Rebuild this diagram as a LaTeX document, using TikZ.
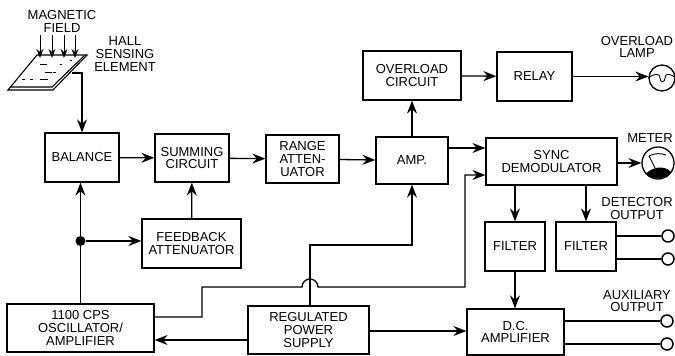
\documentclass[tikz,border=0pt]{standalone}
\usepackage{fontspec}
\setmainfont{Liberation Sans}
\usetikzlibrary{arrows.meta}
\tikzset{
	block/.style={draw, line width=1.3pt, align=center, inner sep=0pt, font=\fontsize{13}{12.8}\selectfont},
	label/.style={align=center, inner sep=0pt, font=\fontsize{13}{12.6}\selectfont},
	wire/.style={line width=1.3pt},
	arr/.style={line width=1.3pt, -{Stealth[length=13pt,width=10pt,inset=4.5pt]}},
	terminal/.style={circle, draw, line width=1.5pt, fill=white, minimum size=12pt, inner sep=0pt},
	dial/.style={circle, draw, line width=1.3pt, fill=white, inner sep=0pt}
}
\begin{document}
\begin{tikzpicture}[x=1pt,y=-1pt]
			\useasboundingbox (0,0) rectangle (675,356);
			\node[block, minimum width=74pt, minimum height=49pt] (balance) at (82,157.5) {BALANCE};
			\node[block, minimum width=74pt, minimum height=48pt] (summing) at (192,158) {SUMMING\\CIRCUIT};
			\node[block, minimum width=73pt, minimum height=48pt] (range) at (302.5,159) {RANGE\\ATTEN-\\UATOR};
			\node[block, minimum width=72pt, minimum height=47pt] (amp) at (412,160.5) {AMP.};
			\node[block, minimum width=98pt, minimum height=49pt] (overload) at (412,75.5) {OVERLOAD\\CIRCUIT};
			\node[block, minimum width=75pt, minimum height=49pt] (relay) at (534.5,76.5) {RELAY};
			\node[block, minimum width=131pt, minimum height=47pt] (sync) at (551.5,161.5) {SYNC\\DEMODULATOR};
			\node[block, minimum width=99pt, minimum height=49pt] (feedback) at (191.5,243.5) {FEEDBACK\\ATTENUATOR};
			\node[block, minimum width=60pt, minimum height=49pt] (filterA) at (515,246.5) {FILTER};
			\node[block, minimum width=60pt, minimum height=49pt] (filterB) at (586,246.5) {FILTER};
			\node[block, minimum width=147pt, minimum height=48pt] (osc) at (80.5,328) {1100 CPS\\OSCILLATOR/\\AMPLIFIER};
			\node[block, minimum width=121pt, minimum height=48pt] (supply) at (308.5,330) {REGULATED\\POWER\\SUPPLY};
			\node[block, minimum width=97pt, minimum height=46pt] (dcamp) at (515.5,332) {D.C.\\AMPLIFIER};
			% labels
			\node[label] (fieldlabel) at (62,21.5) {MAGNETIC\\FIELD};
			\node[label] (halllabel) at (125,54) {HALL\\SENSING\\ELEMENT};
			\node[label] (lamplabel) at (637,47) {OVERLOAD\\LAMP};
			\node[label] (meterlabel) at (650,138) {METER};
			\node[label] (detlabel) at (637,208.5) {DETECTOR\\OUTPUT};
			\node[label] (auxlabel) at (637,301) {AUXILIARY\\OUTPUT};
			% sensing element
			\draw[line width=1.1pt, fill=white] (37,55) -- (87,55) -- (53,90) -- (8,90) -- cycle;
			\draw[line width=1.1pt] (10,87) -- (52,87) -- (84,56);
			\foreach \x/\y/\w in {40/64/7,45/72/7,53/72/3,22/79/3,30/79/3,40/79/8,60/64/2,70/60/2}
				\draw[line width=0.8pt] (\x,\y) -- ++(\w,0);
			\foreach \x [count=\i] in {40,52,64,75} {
				\coordinate (fieldtop\i) at (\x,35);
				\coordinate (fieldend\i) at (\x,58);
				\draw[line width=1pt, -{Stealth[length=9pt,width=7pt,inset=3pt]}] (fieldtop\i) -- (fieldend\i);
			}
			\coordinate (hallout) at (72,73);
			\draw[arr] (hallout) -| (balance.north);
			% signal path
			\draw[arr] (balance) -- (summing);
			\draw[arr] (summing) -- (range);
			\draw[arr] (range) -- (amp);
			\draw[arr] (amp) -- (overload);
			\draw[arr] (overload) -- (relay);
			\coordinate (syncin) at (sync.west |- 0,148);
			\draw[arr] (amp.east |- syncin) -- (syncin);
			% oscillator feed
			\node[circle, fill=black, minimum size=10pt, inner sep=0pt] (dot) at (80.5,241) {};
			\draw[wire] (osc.north -| dot) -- (dot);
			\draw[arr] (dot) -- (dot |- balance.south);
			\draw[arr] (dot) -- (feedback.west |- dot);
			\draw[arr] (feedback) -- (summing);
			\coordinate (oscout) at (osc.east |- 0,317);
			\coordinate (syncref) at (sync.west |- 0,175);
			\draw[arr] (oscout) -- (202,317) -- (202,287) -- (302,287) arc (180:360:8) -- (465,287) -- (465,175) -- (syncref);
			% supply lines
			\draw[arr] (supply.north -| 310,0) -- (310,245) -- (412,245) -- (amp.south);
			\coordinate (supplyosc) at (supply.west |- 0,340);
			\draw[arr] (supplyosc) -- (osc.east |- supplyosc);
			\coordinate (supplydc) at (supply.east |- 0,331);
			\draw[arr] (supplydc) -- (dcamp.west |- supplydc);
			% filters
			\draw[arr] (sync.south -| filterA) -- (filterA);
			\draw[arr] (sync.south -| filterB) -- (filterB);
			\draw[arr] (filterA) -- (dcamp.north -| filterA);
			% outputs
			\node[terminal] (detA) at (668,236) {};
			\node[terminal] (detB) at (668,259) {};
			\node[terminal] (auxA) at (667,321) {};
			\node[terminal] (auxB) at (667,344) {};
			\draw[wire] (filterB.east |- detA) -- (detA);
			\draw[wire] (filterB.east |- detB) -- (detB);
			\draw[wire] (dcamp.east |- auxA) -- (auxA);
			\draw[wire] (dcamp.east |- auxB) -- (auxB);
			% lamp
			\node[dial, minimum size=26pt] (lamp) at (662,78) {};
			\draw[arr] (relay) -- (lamp.west |- relay);
			\draw[line width=0.9pt] (lamp.west) .. controls (655,73) and (660,73) .. (660,78) .. controls (660,83) and (665,83) .. (665,78) .. controls (665,73) and (670,73) .. (lamp.east);
			% meter
			\node[dial, minimum size=32pt] (meter) at (658,163) {};
			\draw[arr] (sync.east |- meter) -- (meter);
			\draw[line width=0.9pt] (649,156) -- (655,168);
			\draw[line width=0.9pt] (649,156) .. controls (655,153) and (661,153) .. (666,155);
			\fill (646,174) .. controls (650,168) and (664,164) .. (671,172) .. controls (665,180) and (652,180) .. cycle;
		\end{tikzpicture}
\end{document}
